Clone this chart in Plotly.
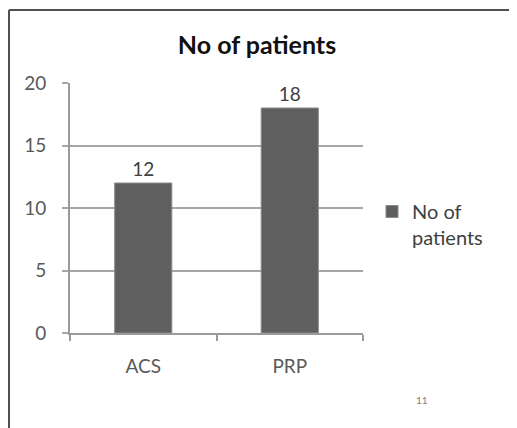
import plotly.graph_objects as go

categories = ["ACS", "PRP"]
values = [12, 18]
series_name = "No of patients"
tick_vals = [0, 5, 10, 15, 20]
page_number = "11"

# The page body has an 8px margin, so the figure sits at (8, 8) in the window.
OFF = 8
W, H = 517 - OFF, 428 - OFF
# plot area in reference pixels: x 70..363, y 83..333
L, R, T, B = 70 - OFF, W - (363 - OFF), 83 - OFF, H - (333 - OFF)
pw, ph = W - L - R, H - T - B

def px_x(x):  # reference-window pixel -> paper coord
    return (x - OFF - L) / pw

def px_y(y):
    return (H - B - (y - OFF)) / ph

FONT = "Lato, 'Open Sans', sans-serif"

fig = go.Figure()
fig.add_trace(go.Bar(
    x=categories, y=values, name="No of<br>patients",
    marker=dict(color="#5f5f5f", line=dict(color="#8a8a8a", width=1)),
    width=0.39,
    text=values, textposition="outside", cliponaxis=False,
    textfont=dict(size=19, color="#404040", family=FONT),
))

fig.update_layout(
    width=W, height=H,
    margin=dict(l=L, r=R, t=T, b=B),
    paper_bgcolor="white", plot_bgcolor="white",
    font=dict(family=FONT, color="#595959"),
    title=dict(text="<b>No of patients</b>", x=(257 - OFF) / W, xanchor="center",
               y=1 - (45 - OFF) / H, yanchor="middle",
               font=dict(size=25, color="#111111", family=FONT)),
    showlegend=True,
    legend=dict(x=px_x(372), y=px_y(192), xanchor="left", yanchor="top",
                font=dict(size=20, color="#404040", family=FONT),
                itemwidth=30, valign="top", bgcolor="rgba(0,0,0,0)"),
    xaxis=dict(showgrid=False, showline=True, linecolor="#9a9a9a", linewidth=2,
               ticks="outside", ticklen=6, tickcolor="#9a9a9a", tickwidth=2,
               tickson="boundaries", ticklabelstandoff=15,
               tickfont=dict(size=19, color="#595959")),
    yaxis=dict(range=[0, 20], tickvals=tick_vals, showgrid=True, gridcolor="#a6a6a6",
               gridwidth=2, showline=True, linecolor="#9a9a9a", linewidth=2,
               ticks="outside", ticklen=6, tickcolor="#a6a6a6", tickwidth=2,
               ticklabelstandoff=12, zeroline=False,
               tickfont=dict(size=19, color="#595959")),
    bargap=0.6,
)

# slide frame border
fig.add_shape(type="line", xref="paper", yref="paper",
              x0=px_x(9), x1=px_x(9), y0=px_y(10), y1=px_y(440),
              line=dict(color="#505050", width=2))
fig.add_shape(type="line", xref="paper", yref="paper",
              x0=px_x(9), x1=px_x(530), y0=px_y(10), y1=px_y(10),
              line=dict(color="#505050", width=2))

fig.add_annotation(text=page_number, xref="paper", yref="paper",
                   x=px_x(430), y=px_y(408), showarrow=False,
                   font=dict(size=10, color="#808080", family=FONT))

fig.write_html("out.html")
